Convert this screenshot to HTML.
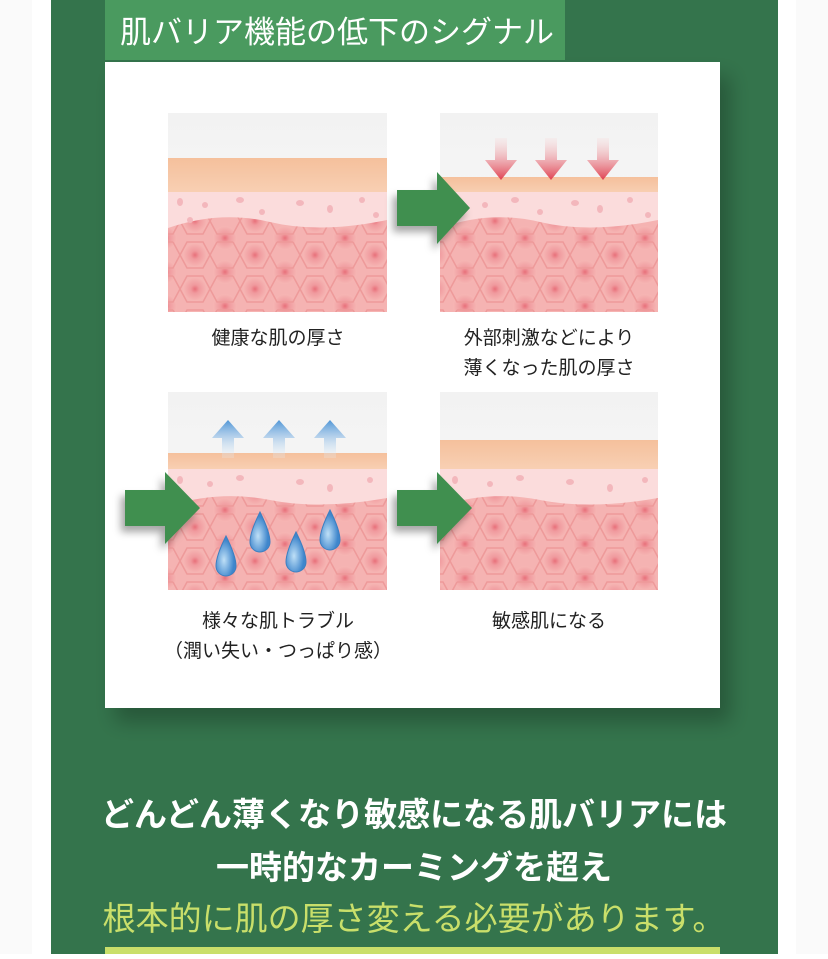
<!DOCTYPE html>
<html><head><meta charset="utf-8"><style>
html,body{margin:0;padding:0;background:#fff;}
body{width:828px;height:954px;overflow:hidden;position:relative;font-family:"Liberation Sans","Noto Sans CJK JP",sans-serif;}
</style></head><body>
<svg width="828" height="954" viewBox="0 0 828 954" xmlns="http://www.w3.org/2000/svg" font-family="Liberation Sans, Noto Sans CJK JP, sans-serif">
<defs>
<linearGradient id="top" x1="0" y1="0" x2="0" y2="1"><stop offset="0" stop-color="#f2f2f2"/><stop offset="1" stop-color="#fafafa"/></linearGradient>
<linearGradient id="org" x1="0" y1="0" x2="0" y2="1"><stop offset="0" stop-color="#f5c09c"/><stop offset="1" stop-color="#f8d0b4"/></linearGradient>
<radialGradient id="cell"><stop offset="0" stop-color="#e8707a"/><stop offset="0.35" stop-color="#f09a9e"/><stop offset="1" stop-color="#f6b6b4"/></radialGradient>
<linearGradient id="rarr" x1="0" y1="0" x2="0" y2="1"><stop offset="0" stop-color="#f7dede" stop-opacity="0.3"/><stop offset="1" stop-color="#e04050"/></linearGradient>
<linearGradient id="barr" x1="0" y1="1" x2="0" y2="0"><stop offset="0" stop-color="#e8f2fb" stop-opacity="0.2"/><stop offset="1" stop-color="#4f95d6"/></linearGradient>
<radialGradient id="drop" cx="0.4" cy="0.6"><stop offset="0" stop-color="#bfe0f7"/><stop offset="1" stop-color="#3f86cc"/></radialGradient>
<pattern id="hex" width="60" height="34" patternUnits="userSpaceOnUse">
<rect width="60" height="34" fill="#f5b3b2"/>
<circle cx="15" cy="17" r="12" fill="url(#cell)"/>
<circle cx="45" cy="0" r="12" fill="url(#cell)"/>
<circle cx="45" cy="34" r="12" fill="url(#cell)"/>
<path d="M0 17 L7 4 L23 4 L30 17 L23 30 L7 30 Z M30 17 L37 30 L53 30 L60 17 M37 4 L30 17 M53 4 L60 17 M37 4 L53 4 M37 30 L30 17" fill="none" stroke="#ee9a9a" stroke-width="1.5"/>
</pattern>
<filter id="sh" x="-30%" y="-30%" width="160%" height="160%"><feDropShadow dx="-4" dy="6" stdDeviation="4" flood-color="#000" flood-opacity="0.35"/></filter>
<filter id="bs" x="-10%" y="-10%" width="130%" height="130%"><feDropShadow dx="10" dy="14" stdDeviation="10" flood-color="#000" flood-opacity="0.25"/></filter>
</defs>
<rect x="0" y="0" width="828" height="954" fill="#fafafa"/>
<rect x="32" y="0" width="764" height="954" fill="#fff"/>
<rect x="51" y="0" width="727" height="954" fill="#34744c"/>
<rect x="105" y="62" width="615" height="646" fill="#fff" filter="url(#bs)"/>
<rect x="105" y="0" width="460" height="60" fill="#4a9a5f"/>
<text x="337" y="43" font-size="31" fill="#fff" text-anchor="middle">肌バリア機能の低下のシグナル</text>

<g>
<rect x="168" y="113" width="219" height="199" fill="url(#top)"/>
<rect x="168" y="158" width="219" height="36" fill="url(#org)"/>
<rect x="168" y="192" width="219" height="120" fill="#fbdcdc"/>
<path d="M168 228 Q220 210 270 222 T387 220 V312 H168 Z" fill="url(#hex)"/>
<g fill="#f3b7bc"><ellipse cx="180" cy="202" rx="3" ry="4"/><ellipse cx="205" cy="205" rx="3" ry="3"/><ellipse cx="240" cy="200" rx="4" ry="3"/><ellipse cx="262" cy="212" rx="3" ry="3"/><ellipse cx="300" cy="203" rx="4" ry="3"/><ellipse cx="330" cy="209" rx="3" ry="4"/><ellipse cx="362" cy="200" rx="3" ry="3"/><ellipse cx="376" cy="215" rx="3" ry="3"/><ellipse cx="190" cy="220" rx="3" ry="3"/></g>
</g>
<g>
<rect x="440" y="113" width="218" height="199" fill="url(#top)"/>
<rect x="440" y="177" width="218" height="17" fill="url(#org)"/>
<rect x="440" y="192" width="218" height="120" fill="#fbdcdc"/>
<path d="M440 228 Q490 210 540 222 T658 220 V312 H440 Z" fill="url(#hex)"/>
<g fill="#f3b7bc"><ellipse cx="455" cy="202" rx="3" ry="4"/><ellipse cx="485" cy="205" rx="3" ry="3"/><ellipse cx="515" cy="200" rx="4" ry="3"/><ellipse cx="540" cy="212" rx="3" ry="3"/><ellipse cx="575" cy="203" rx="4" ry="3"/><ellipse cx="600" cy="209" rx="3" ry="4"/><ellipse cx="630" cy="200" rx="3" ry="3"/><ellipse cx="648" cy="215" rx="3" ry="3"/></g>
<g fill="url(#rarr)"><path d="M495 138h12v22h10l-16 20l-16-20h10z"/><path d="M545 138h12v22h10l-16 20l-16-20h10z"/><path d="M597 138h12v22h10l-16 20l-16-20h10z"/></g>
</g>
<g>
<rect x="168" y="392" width="219" height="198" fill="url(#top)"/>
<rect x="168" y="453" width="219" height="17" fill="url(#org)"/>
<rect x="168" y="469" width="219" height="121" fill="#fbdcdc"/>
<path d="M168 506 Q220 490 270 500 T387 498 V590 H168 Z" fill="url(#hex)"/>
<g fill="#f3b7bc"><ellipse cx="180" cy="480" rx="3" ry="4"/><ellipse cx="210" cy="484" rx="3" ry="3"/><ellipse cx="240" cy="478" rx="4" ry="3"/><ellipse cx="300" cy="482" rx="4" ry="3"/><ellipse cx="330" cy="488" rx="3" ry="4"/><ellipse cx="370" cy="480" rx="3" ry="3"/></g>
<g fill="url(#barr)"><path d="M222 458v-20h-10l16-18l16 18h-10v20z"/><path d="M273 458v-20h-10l16-18l16 18h-10v20z"/><path d="M324 458v-20h-10l16-18l16 18h-10v20z"/></g>
<g fill="url(#drop)" stroke="#3d7fc0" stroke-width="1"><path d="M226 536 Q216 556 216 566 A10 10 0 0 0 236 566 Q236 556 226 536Z"/><path d="M260 512 Q250 532 250 542 A10 10 0 0 0 270 542 Q270 532 260 512Z"/><path d="M296 532 Q286 552 286 562 A10 10 0 0 0 306 562 Q306 552 296 532Z"/><path d="M330 510 Q320 530 320 540 A10 10 0 0 0 340 540 Q340 530 330 510Z"/></g>
</g>
<g>
<rect x="440" y="392" width="218" height="198" fill="url(#top)"/>
<rect x="440" y="440" width="218" height="30" fill="url(#org)"/>
<rect x="440" y="469" width="218" height="121" fill="#fbdcdc"/>
<path d="M440 506 Q490 490 540 500 T658 498 V590 H440 Z" fill="url(#hex)"/>
<g fill="#f3b7bc"><ellipse cx="455" cy="480" rx="3" ry="4"/><ellipse cx="490" cy="484" rx="3" ry="3"/><ellipse cx="520" cy="478" rx="4" ry="3"/><ellipse cx="570" cy="482" rx="4" ry="3"/><ellipse cx="610" cy="488" rx="3" ry="4"/><ellipse cx="645" cy="480" rx="3" ry="3"/></g>
</g>
<g fill="#3f8f4f" filter="url(#sh)">
<path d="M397 190h40v-18l33 36l-33 36v-18h-40z"/>
<path d="M125 490h40v-18l35 36l-35 36v-18h-40z"/>
<path d="M397 490h40v-18l35 36l-35 36v-18h-40z"/>
</g>
<g font-size="19" fill="#222" text-anchor="middle">
<text x="278" y="344">健康な肌の厚さ</text>
<text x="549" y="344">外部刺激などにより</text>
<text x="549" y="374">薄くなった肌の厚さ</text>
<text x="278" y="627">様々な肌トラブル</text>
<text x="278" y="657">（潤い失い・つっぱり感）</text>
<text x="549" y="627">敏感肌になる</text>
</g>
<g font-size="33" font-weight="bold" text-anchor="middle">
<text x="414" y="826" fill="#fff">どんどん薄くなり敏感になる肌バリアには</text>
<text x="414" y="879" fill="#fff">一時的なカーミングを超え</text>
<text x="414" y="930" fill="#c9df6a" font-weight="normal">根本的に肌の厚さ変える必要があります。</text>
</g>
<rect x="105" y="947" width="615" height="7" fill="#c9df6a"/>
</svg>
</body></html>
